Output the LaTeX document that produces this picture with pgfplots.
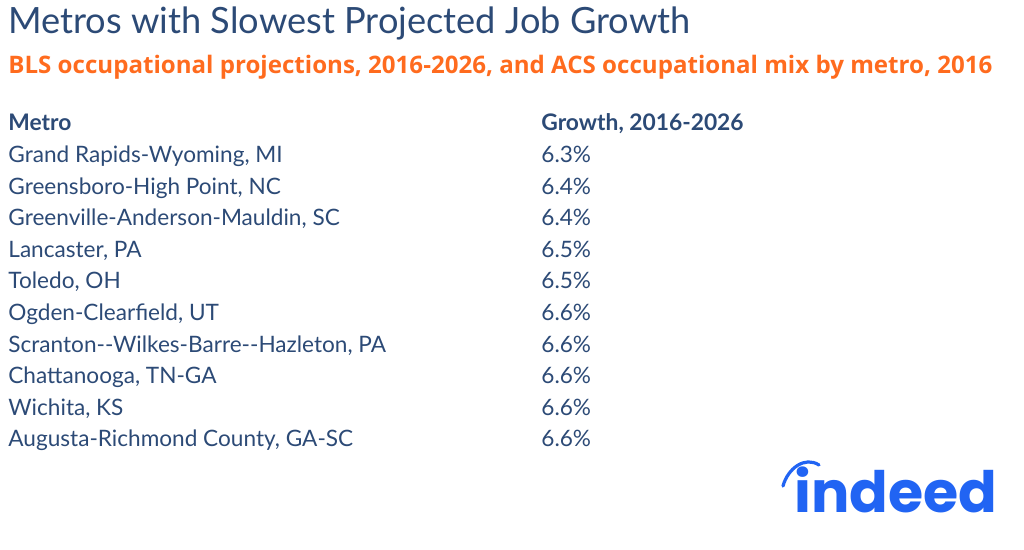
\documentclass[border=0pt]{standalone}
\usepackage{pgfplots}
\usepackage{pgfplotstable}
\pgfplotsset{compat=1.18}
\usepackage{fontspec}
\setmainfont{Lato}
\newfontfamily\subfont{Open Sans}
\newfontfamily\logofont{Poppins}
\definecolor{navy}{HTML}{2C4A76}
\definecolor{orangeT}{HTML}{FF6B1E}
\definecolor{indeedblue}{HTML}{2164F3}

\pgfplotstableread[col sep=semicolon]{
row;metro;growth
1;Grand Rapids-Wyoming, MI;6.3
2;Greensboro-High Point, NC;6.4
3;Greenville-Anderson-Mauldin, SC;6.4
4;Lancaster, PA;6.5
5;Toledo, OH;6.5
6;Ogden-Clearfield, UT;6.6
7;Scranton-\/-Wilkes-Barre-\/-Hazleton, PA;6.6
8;Chattanooga, TN-GA;6.6
9;Wichita, KS;6.6
10;Augusta-Richmond County, GA-SC;6.6
}\metros

\begin{document}
\begin{tikzpicture}
\begin{axis}[
  width=512pt, height=275pt, scale only axis, hide axis,
  xmin=0, xmax=1024, ymin=0, ymax=550, y dir=reverse, clip=false,
]
\path (axis cs:0,0) rectangle (axis cs:1024,550);
\node[anchor=base west, inner sep=0pt, font=\fontsize{18.1}{20}\selectfont, text=navy]
  at (axis cs:8,34) {Metros with Slowest Projected Job Growth};
\node[anchor=base west, inner sep=0pt, font=\subfont\bfseries\fontsize{12.05}{14}\selectfont, text=orangeT]
  at (axis cs:8,74) {BLS occupational projections, 2016-2026, and ACS occupational mix by metro, 2016};
\node[anchor=base west, inner sep=0pt, font=\bfseries\fontsize{11.4}{13}\selectfont, text=navy]
  at (axis cs:8,131) {Metro};
\node[anchor=base west, inner sep=0pt, font=\bfseries\fontsize{11.4}{13}\selectfont, text=navy]
  at (axis cs:541,131) {Growth, 2016-2026};
\addplot[draw=none, mark=none, nodes near coords, point meta=explicit symbolic,
  every node near coord/.append style={anchor=base west, inner sep=0pt,
    font=\fontsize{11.3}{13}\selectfont, text=navy}]
  table[x expr=8, y expr=131+31.6*\thisrow{row}, meta=metro] {\metros};
\addplot[draw=none, mark=none,
  nodes near coords={\pgfmathprintnumber[fixed,fixed zerofill,precision=1,assume math mode=true]{\pgfplotspointmeta}\%},
  point meta=\thisrow{growth},
  every node near coord/.append style={anchor=base west, inner sep=0pt,
    font=\fontsize{11.3}{13}\selectfont, text=navy}]
  table[x expr=541, y expr=131+31.6*\thisrow{row}] {\metros};
\node[anchor=base west, inner sep=0pt, font=\logofont\bfseries\fontsize{28.5}{30}\selectfont, text=indeedblue]
  at (axis cs:794,513) {indeed};
\draw[indeedblue, line width=1.6pt, line cap=round]
  (axis cs:783,486) .. controls (axis cs:788,468) and (axis cs:805,456) .. (axis cs:819,465);
\end{axis}
\end{tikzpicture}
\end{document}
